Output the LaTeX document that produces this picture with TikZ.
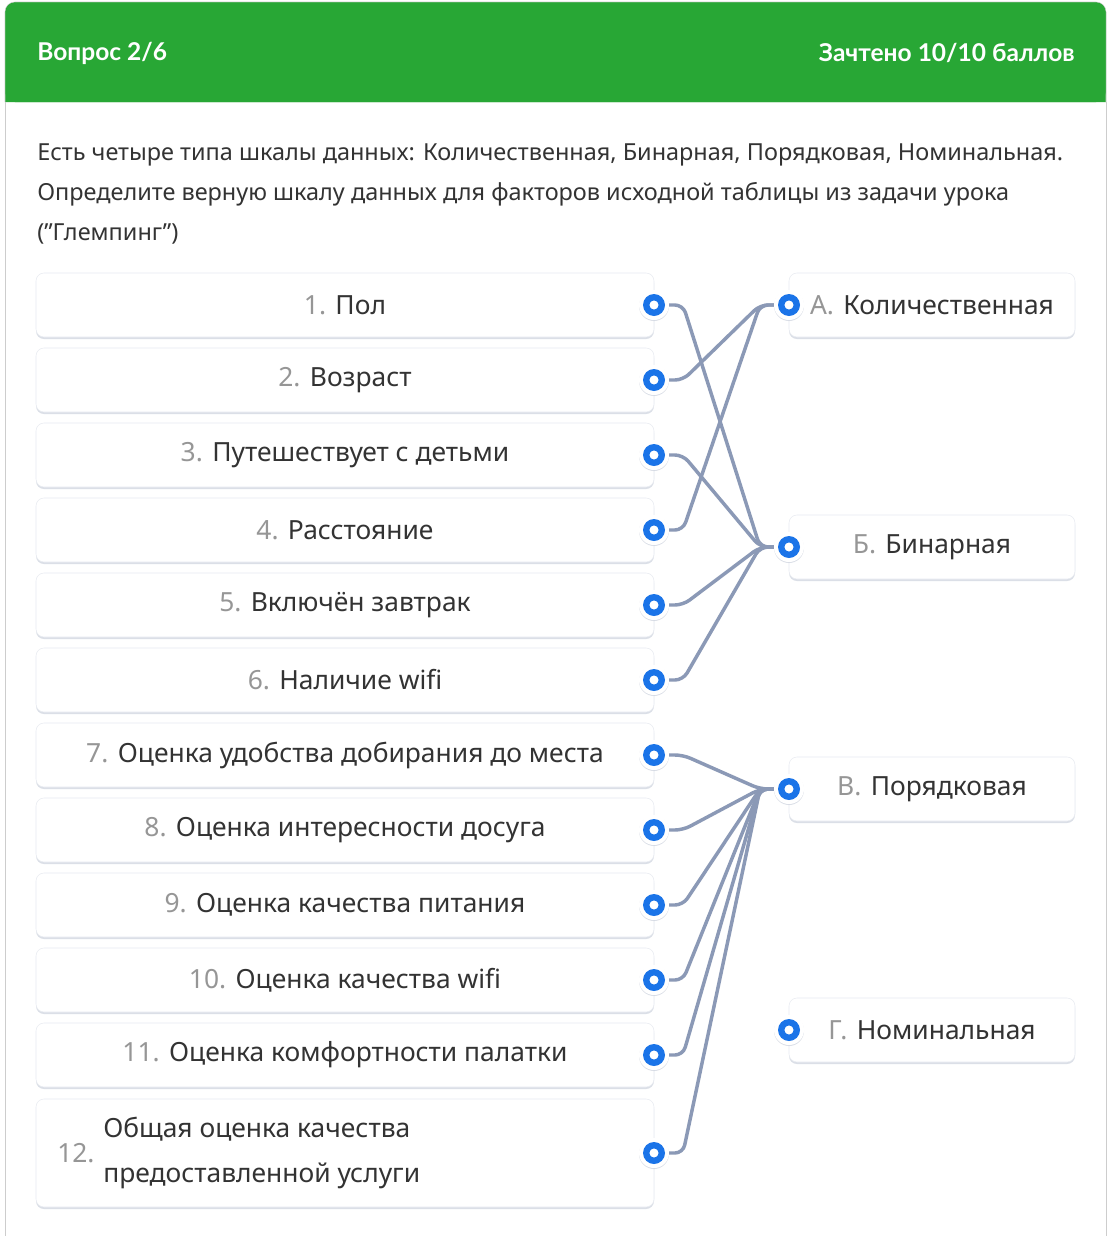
\documentclass[tikz,border=0pt]{standalone}
\usepackage{fontspec}
\setmainfont{Noto Sans}
\newfontfamily\headfont{Lato}
\usetikzlibrary{positioning}
\usetikzlibrary{shadows}
\definecolor{headgreen}{RGB}{40,167,53}
\definecolor{framegrey}{RGB}{205,205,205}
\definecolor{textdark}{RGB}{51,51,51}
\definecolor{numgrey}{RGB}{150,150,150}
\definecolor{linkgrey}{RGB}{139,153,182}
\definecolor{dotblue}{RGB}{27,116,232}
\definecolor{boxedge}{RGB}{232,235,241}
\definecolor{boxshade}{RGB}{196,202,216}
\newcommand\nr[1]{{\color{numgrey}#1}\hspace{7pt}}
\pgfdeclarelayer{back}
\pgfdeclarelayer{links}
\pgfsetlayers{back,links,main}
\tikzset{factor/.style={%
        rectangle,
        rounded corners=6pt,
        minimum width=463.5pt,
        minimum height=48pt,
        outer sep=0pt,
        draw=boxedge,
        fill=white,
        text=textdark,
        font=\fontsize{19.8}{23}\selectfont,
        general shadow={fill=boxshade, shadow yshift=-1.5pt, opacity=.6}
    },
    scalebox/.style={%
        factor,
        minimum width=214.5pt
    },
    dot/.style={%
        circle,
        inner sep=0pt,
        minimum size=22.5pt,
        fill=white,
        general shadow={fill=boxshade, shadow yshift=-.75pt, opacity=.6},
        path picture={\draw[dotblue, line width=4.8pt]
            (path picture bounding box.center) circle (5.8pt);}
    },
    link/.style={%
        draw=linkgrey,
        line width=2.6pt,
        rounded corners=6pt
    },
    head/.style={%
        text=white,
        inner sep=0pt,
        font=\headfont\bfseries\fontsize{18.4}{20}\selectfont
    }}

\begin{document}
\begin{tikzpicture}[x=0.75pt, y=-0.75pt]
    \useasboundingbox (0,0) rectangle (1111,1236);
    % frame and header
    \begin{pgfonlayer}{back}
    \fill[white] (0,0) rectangle (1111,1236);
    \draw[framegrey, fill=headgreen, rounded corners=7.5pt]
        (5,102) -- (5,2) -- (1106,2) -- (1106,102);
    \fill[headgreen, rounded corners=7pt] (5.5,102) -- (5.5,2.5) -- (1105.5,2.5) -- (1105.5,102) -- cycle;
    \draw[framegrey] (5,102) -- (5,1236);
    \draw[framegrey] (1106,102) -- (1106,1236);
    \end{pgfonlayer}
    \node [head, anchor=west] (qno) at (37,53) {Вопрос 2/6};
    \node [head, anchor=east] (score) at (1075,53) {Зачтено 10/10 баллов};
    \node [anchor=north west, inner sep=0pt, align=left, text=textdark,
           font=\fontsize{17.6}{30}\selectfont] (quest) at (37,143)
        {Есть четыре типа шкалы данных: Количественная, Бинарная, Порядковая, Номинальная.\\
         Определите верную шкалу данных для факторов исходной таблицы из задачи урока\\
         (”Глемпинг”)};
    % factors
    \node [factor] (l1) at (345,305) {\nr{1.}Пол};
    \node [factor] (l2) [below=8.25pt of l1] {\nr{2.}Возраст};
    \node [factor] (l3) [below=8.25pt of l2] {\nr{3.}Путешествует с детьми};
    \node [factor] (l4) [below=8.25pt of l3] {\nr{4.}Расстояние};
    \node [factor] (l5) [below=8.25pt of l4] {\nr{5.}Включён завтрак};
    \node [factor] (l6) [below=8.25pt of l5] {\nr{6.}Наличие wifi};
    \node [factor] (l7) [below=8.25pt of l6] {\nr{7.}Оценка удобства добирания до места};
    \node [factor] (l8) [below=8.25pt of l7] {\nr{8.}Оценка интересности досуга};
    \node [factor] (l9) [below=8.25pt of l8] {\nr{9.}Оценка качества питания};
    \node [factor] (l10) [below=8.25pt of l9] {\nr{10.}Оценка качества wifi};
    \node [factor] (l11) [below=8.25pt of l10] {\nr{11.}Оценка комфортности палатки};
    \node [factor, minimum height=81pt] (l12) [below=9pt of l11] {};
    \node [text=numgrey, font=\fontsize{19.8}{23}\selectfont, anchor=west, inner sep=0pt]
        (n12) at ([xshift=15.75pt]l12.west) {12.};
    \node [text=textdark, font=\fontsize{19.8}{33.75}\selectfont, anchor=west, align=left, inner sep=0pt]
        (t12) at ([xshift=50.25pt]l12.west) {Общая оценка качества\\предоставленной услуги};
    % scales
    \node [scalebox] (sA) at (932,305) {\nr{А.}Количественная};
    \node [scalebox] (sB) [below=133.5pt of sA] {\nr{Б.}Бинарная};
    \node [scalebox] (sC) [below=133.5pt of sB] {\nr{В.}Порядковая};
    \node [scalebox] (sD) [below=132.75pt of sC] {\nr{Г.}Номинальная};
    % dots
    \node [dot] (d1) at (l1.east) {};
    \node [dot] (d2) at (l2.east) {};
    \node [dot] (d3) at (l3.east) {};
    \node [dot] (d4) at (l4.east) {};
    \node [dot] (d5) at (l5.east) {};
    \node [dot] (d6) at (l6.east) {};
    \node [dot] (d7) at (l7.east) {};
    \node [dot] (d8) at (l8.east) {};
    \node [dot] (d9) at (l9.east) {};
    \node [dot] (d10) at (l10.east) {};
    \node [dot] (d11) at (l11.east) {};
    \node [dot] (d12) at (l12.east) {};
    \node [dot] (dA) at (sA.west) {};
    \node [dot] (dB) at (sB.west) {};
    \node [dot] (dC) at (sC.west) {};
    \node [dot] (dD) at (sD.west) {};
    % answers
    \begin{pgfonlayer}{links}
    \draw[link] (d1.center) -- ([xshift=21.75pt]d1.center) -- ([xshift=-21.75pt]dB.center) -- (dB.center);
    \draw[link] (d2.center) -- ([xshift=21.75pt]d2.center) -- ([xshift=-21.75pt]dA.center) -- (dA.center);
    \draw[link] (d3.center) -- ([xshift=21.75pt]d3.center) -- ([xshift=-21.75pt]dB.center) -- (dB.center);
    \draw[link] (d4.center) -- ([xshift=21.75pt]d4.center) -- ([xshift=-21.75pt]dA.center) -- (dA.center);
    \draw[link] (d5.center) -- ([xshift=21.75pt]d5.center) -- ([xshift=-21.75pt]dB.center) -- (dB.center);
    \draw[link] (d6.center) -- ([xshift=21.75pt]d6.center) -- ([xshift=-21.75pt]dB.center) -- (dB.center);
    \draw[link] (d7.center) -- ([xshift=21.75pt]d7.center) -- ([xshift=-21.75pt]dC.center) -- (dC.center);
    \draw[link] (d8.center) -- ([xshift=21.75pt]d8.center) -- ([xshift=-21.75pt]dC.center) -- (dC.center);
    \draw[link] (d9.center) -- ([xshift=21.75pt]d9.center) -- ([xshift=-21.75pt]dC.center) -- (dC.center);
    \draw[link] (d10.center) -- ([xshift=21.75pt]d10.center) -- ([xshift=-21.75pt]dC.center) -- (dC.center);
    \draw[link] (d11.center) -- ([xshift=21.75pt]d11.center) -- ([xshift=-21.75pt]dC.center) -- (dC.center);
    \draw[link] (d12.center) -- ([xshift=21.75pt]d12.center) -- ([xshift=-21.75pt]dC.center) -- (dC.center);
    \end{pgfonlayer}
\end{tikzpicture}
\end{document}
